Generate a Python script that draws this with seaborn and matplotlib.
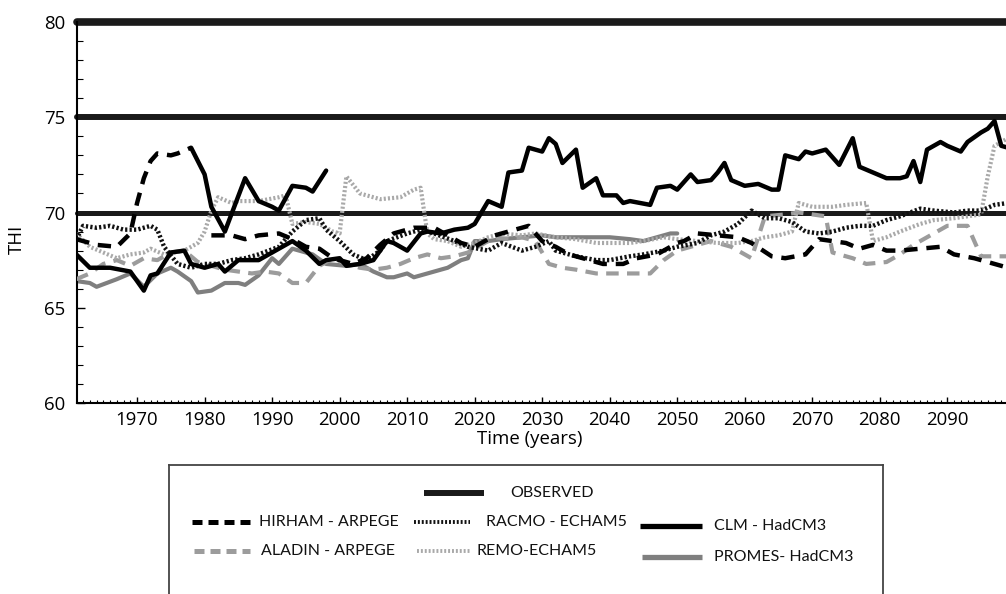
import numpy as np
import pandas as pd
import matplotlib
matplotlib.use("Agg")
import matplotlib.pyplot as plt
from matplotlib import font_manager as fm
from matplotlib.ticker import MultipleLocator
import seaborn as sns

# ---------------- data ----------------
observed_levels = [70, 75, 80]

clm_years_a = [1961, 1963, 1966, 1969, 1971, 1972, 1973, 1975, 1977, 1978,
               1980, 1982, 1983, 1985, 1988, 1990, 1993, 1995, 1997, 1998,
               2000, 2001, 2003, 2005, 2007, 2008, 2010, 2012, 2013, 2015,
               2017, 2019, 2020, 2022, 2024, 2025, 2027, 2028, 2030, 2031,
               2032, 2033, 2035, 2036, 2038, 2039, 2041, 2042, 2043, 2046,
               2047, 2049, 2050, 2052, 2053, 2055, 2056, 2057, 2058, 2060,
               2062, 2064, 2065, 2066, 2068, 2069, 2070, 2072, 2074, 2076,
               2077, 2079, 2081, 2083, 2084, 2085, 2086, 2087, 2089, 2090,
               2092, 2093, 2095, 2096, 2097, 2098, 2099]
clm_thi_a = [67.8, 67.1, 67.1, 66.9, 65.9, 66.7, 66.8, 67.9, 68.0, 67.3,
             67.1, 67.3, 66.9, 67.5, 67.5, 67.9, 68.5, 68.0, 67.3, 67.5,
             67.6, 67.2, 67.3, 67.5, 68.5, 68.4, 68.0, 68.9, 69.0, 68.9,
             69.1, 69.2, 69.4, 70.6, 70.3, 72.1, 72.2, 73.4, 73.2, 73.9,
             73.6, 72.6, 73.3, 71.3, 71.8, 70.9, 70.9, 70.5, 70.6, 70.4,
             71.3, 71.4, 71.2, 72.0, 71.6, 71.7, 72.1, 72.6, 71.7, 71.4,
             71.5, 71.2, 71.2, 73.0, 72.8, 73.2, 73.1, 73.3, 72.5, 73.9,
             72.4, 72.1, 71.8, 71.8, 71.9, 72.7, 71.6, 73.3, 73.7, 73.5,
             73.2, 73.7, 74.2, 74.4, 74.8, 73.5, 73.4]
clm_years_b = [1978, 1980, 1981, 1983, 1986, 1988, 1990, 1991, 1993, 1995, 1996, 1998]
clm_thi_b = [73.4, 72.0, 70.3, 69.0, 71.8, 70.6, 70.3, 70.1, 71.4, 71.3, 71.1, 72.2]

hirham_years_a = [1961, 1962, 1964, 1967, 1969, 1970, 1971, 1972, 1973, 1975, 1976, 1978]
hirham_thi_a = [68.6, 68.5, 68.3, 68.2, 68.9, 70.5, 71.8, 72.7, 73.1, 73.0, 73.1, 73.4]
hirham_years_b = [1981, 1984, 1986, 1988, 1991, 1993, 1995, 1997, 1999, 2000,
                  2002, 2004, 2006, 2008, 2011, 2014, 2016, 2018, 2020, 2023,
                  2025, 2028, 2030, 2032, 2034, 2037, 2039, 2042, 2044, 2047,
                  2050, 2051, 2053, 2056, 2059, 2061, 2064, 2066, 2069, 2071,
                  2073, 2075, 2077, 2079, 2081, 2083, 2086, 2089, 2091, 2094,
                  2096, 2098, 2099]
hirham_thi_b = [68.8, 68.8, 68.6, 68.8, 68.9, 68.6, 68.2, 68.1, 67.6, 67.5,
                67.3, 67.6, 68.3, 68.9, 69.2, 69.2, 68.8, 68.4, 68.2, 68.8,
                69.0, 69.3, 68.5, 68.2, 67.8, 67.5, 67.3, 67.3, 67.6, 67.8,
                68.4, 68.5, 68.9, 68.8, 68.7, 68.4, 67.7, 67.6, 67.8, 68.6,
                68.5, 68.4, 68.1, 68.3, 68.0, 68.0, 68.1, 68.2, 67.8, 67.6,
                67.4, 67.2, 67.1]

racmo_years = [1961, 1962, 1964, 1966, 1968, 1970, 1972, 1973, 1974, 1976,
               1978, 1980, 1982, 1984, 1986, 1988, 1991, 1993, 1995, 1997,
               1998, 2000, 2002, 2004, 2006, 2007, 2010, 2012, 2014, 2017,
               2019, 2022, 2024, 2027, 2029, 2031, 2032, 2035, 2038, 2040,
               2043, 2045, 2048, 2050, 2053, 2055, 2057, 2059, 2061, 2063,
               2065, 2067, 2069, 2071, 2073, 2075, 2077, 2079, 2081, 2083,
               2086, 2088, 2091, 2093, 2095, 2097, 2099]
racmo_thi = [68.6, 69.3, 69.2, 69.3, 69.1, 69.1, 69.3, 69.1, 68.2, 67.3,
             67.1, 67.3, 67.3, 67.5, 67.6, 67.8, 68.2, 69.0, 69.6, 69.7,
             69.1, 68.5, 67.8, 67.5, 68.0, 68.5, 68.9, 69.1, 68.9, 68.5,
             68.2, 68.0, 68.4, 68.0, 68.2, 68.5, 68.0, 67.7, 67.5, 67.5,
             67.7, 67.8, 68.0, 68.2, 68.4, 68.8, 69.0, 69.4, 70.1, 69.7,
             69.7, 69.5, 69.0, 68.9, 69.0, 69.2, 69.3, 69.3, 69.6, 69.8,
             70.2, 70.1, 70.0, 70.1, 70.1, 70.4, 70.5]

remo_years = [1961, 1963, 1965, 1967, 1969, 1971, 1972, 1974, 1977, 1979,
              1980, 1981, 1982, 1984, 1985, 1988, 1991, 1992, 1993, 1995,
              1997, 1999, 2000, 2001, 2003, 2006, 2009, 2011, 2012, 2013,
              2014, 2016, 2018, 2020, 2022, 2024, 2027, 2029, 2032, 2035,
              2038, 2040, 2043, 2045, 2048, 2050, 2053, 2056, 2059, 2061,
              2063, 2065, 2067, 2068, 2070, 2073, 2075, 2078, 2079, 2081,
              2083, 2086, 2088, 2091, 2093, 2095, 2096, 2097, 2099]
remo_thi = [68.9, 68.2, 67.9, 67.6, 67.8, 67.9, 68.1, 67.8, 68.0, 68.4,
            69.0, 70.1, 70.8, 70.5, 70.6, 70.6, 70.8, 70.9, 69.4, 69.5,
            69.4, 69.0, 68.9, 71.9, 71.0, 70.7, 70.8, 71.2, 71.3, 68.9,
            68.6, 68.5, 68.2, 68.4, 68.7, 68.9, 68.8, 68.9, 68.7, 68.6,
            68.4, 68.4, 68.4, 68.5, 68.7, 68.6, 68.5, 68.4, 68.4, 68.5,
            68.7, 68.8, 69.0, 70.5, 70.3, 70.3, 70.4, 70.5, 68.5, 68.7,
            69.0, 69.4, 69.6, 69.7, 69.8, 69.9, 71.9, 73.5, 73.9]

aladin_years = [1961, 1963, 1965, 1967, 1969, 1971, 1973, 1975, 1977, 1979,
                1981, 1983, 1985, 1987, 1989, 1991, 1993, 1995, 1997, 1999,
                2001, 2003, 2005, 2007, 2009, 2011, 2013, 2015, 2017, 2019,
                2021, 2023, 2025, 2027, 2029, 2031, 2033, 2035, 2038, 2041,
                2044, 2046, 2048, 2050, 2053, 2055, 2058, 2061, 2063, 2066,
                2068, 2070, 2072, 2073, 2076, 2078, 2081, 2083, 2085, 2088,
                2090, 2093, 2094, 2095, 2097, 2099]
aladin_thi = [66.5, 66.8, 67.3, 67.5, 67.2, 67.6, 67.5, 67.9, 68.0, 67.4,
              67.2, 67.0, 66.9, 66.8, 66.9, 66.8, 66.3, 66.3, 67.2, 67.6,
              67.3, 67.1, 67.0, 67.1, 67.3, 67.6, 67.8, 67.6, 67.7, 67.9,
              68.3, 68.7, 68.6, 68.7, 68.5, 67.3, 67.1, 67.0, 66.8, 66.8,
              66.8, 66.8, 67.5, 68.0, 68.3, 68.5, 68.2, 67.6, 69.8, 69.9,
              70.0, 69.9, 69.8, 67.9, 67.6, 67.3, 67.4, 67.8, 68.3, 68.9,
              69.3, 69.3, 68.5, 67.7, 67.7, 67.7]

promes_years = [1961, 1963, 1964, 1967, 1969, 1971, 1973, 1975, 1976, 1978,
                1979, 1981, 1982, 1983, 1985, 1986, 1988, 1990, 1991, 1993,
                1996, 1998, 2001, 2003, 2005, 2007, 2008, 2010, 2011, 2014,
                2016, 2018, 2019, 2020, 2022, 2024, 2027, 2030, 2032, 2035,
                2038, 2040, 2043, 2045, 2047, 2049, 2050]
promes_thi = [66.4, 66.3, 66.1, 66.5, 66.8, 66.1, 66.8, 67.1, 66.9, 66.4,
              65.8, 65.9, 66.1, 66.3, 66.3, 66.2, 66.7, 67.6, 67.3, 68.1,
              67.8, 67.3, 67.2, 67.3, 66.9, 66.6, 66.6, 66.8, 66.6, 66.9,
              67.1, 67.5, 67.6, 68.5, 68.5, 68.6, 68.7, 68.8, 68.7, 68.7,
              68.7, 68.7, 68.6, 68.5, 68.7, 68.9, 68.9]

x_tick_years = [1970, 1980, 1990, 2000, 2010, 2020, 2030, 2040, 2050, 2060, 2070, 2080, 2090]
y_tick_values = [60, 65, 70, 75, 80]

observed_label = "OBSERVED"
model_labels = ["HIRHAM - ARPEGE", "ALADIN - ARPEGE", "RACMO - ECHAM5",
                "REMO-ECHAM5", "CLM - HadCM3", "PROMES- HadCM3"]

# ---------------- long-form table ----------------
segments = [
    ("PROMES- HadCM3", "p", promes_years, promes_thi),
    ("ALADIN - ARPEGE", "a", aladin_years, aladin_thi),
    ("REMO-ECHAM5", "r", remo_years, remo_thi),
    ("RACMO - ECHAM5", "c", racmo_years, racmo_thi),
    ("HIRHAM - ARPEGE", "h1", hirham_years_a, hirham_thi_a),
    ("HIRHAM - ARPEGE", "h2", hirham_years_b, hirham_thi_b),
    ("CLM - HadCM3", "k1", clm_years_a, clm_thi_a),
    ("CLM - HadCM3", "k2", clm_years_b, clm_thi_b),
]
rows = []
for model, seg, yrs, vals in segments:
    for yr, v in zip(yrs, vals):
        rows.append((model, seg, yr, v))
df = pd.DataFrame(rows, columns=["model", "segment", "year", "thi"])

# ---------------- style ----------------
sns.set_theme(style="ticks")
avail = {f.name for f in fm.fontManager.ttflist}
main_font = "Open Sans" if "Open Sans" in avail else "DejaVu Sans"
if "Liberation Sans Narrow" in avail:
    legend_font, legend_size = "Liberation Sans Narrow", 13.0
else:
    legend_font, legend_size = "Lato", 11.5
plt.rcParams["font.family"] = [main_font, "DejaVu Sans"]

styles = {
    "PROMES- HadCM3": dict(color="#7f7f7f", lw=3.0, ls="-"),
    "ALADIN - ARPEGE": dict(color="#9c9c9c", lw=3.0, ls=(0, (3, 2))),
    "REMO-ECHAM5": dict(color="#a9a9a9", lw=3.0, ls=(0, (0.5, 0.5))),
    "RACMO - ECHAM5": dict(color="#111111", lw=3.2, ls=(0, (0.5, 0.5))),
    "HIRHAM - ARPEGE": dict(color="#000000", lw=3.2, ls=(0, (3, 2))),
    "CLM - HadCM3": dict(color="#000000", lw=3.2, ls="-"),
}
draw_order = ["PROMES- HadCM3", "ALADIN - ARPEGE", "REMO-ECHAM5",
              "RACMO - ECHAM5", "HIRHAM - ARPEGE", "CLM - HadCM3"]

W, H = 1006, 594
fig = plt.figure(figsize=(W / 100, H / 100), dpi=100)
ax = fig.add_axes([77 / W, 191 / H, 929 / W, 381 / H])

obs_widths = [3.6, 4.3, 5.5]
for lvl, lw in zip(observed_levels, obs_widths):
    ax.axhline(lvl, color="#1a1a1a", lw=lw, zorder=1.5, clip_on=False)

for i, m in enumerate(draw_order):
    st = styles[m]
    sns.lineplot(data=df[df["model"] == m], x="year", y="thi", units="segment",
                 estimator=None, color=st["color"], linewidth=st["lw"],
                 linestyle=st["ls"], legend=False, ax=ax, zorder=2 + i)

ax.set_xlim(1961.1, 2098.7)
ax.set_ylim(60, 80)
ax.set_xticks(x_tick_years)
ax.set_yticks(y_tick_values)
ax.xaxis.set_minor_locator(MultipleLocator(1))
ax.yaxis.set_minor_locator(MultipleLocator(1))
ax.tick_params(axis="both", which="both", direction="in", color="black",
               labelsize=13.4, labelcolor="black")
ax.tick_params(axis="x", which="major", length=4, width=1.0, pad=6)
ax.tick_params(axis="x", which="minor", length=2, width=0.8)
ax.tick_params(axis="y", which="major", length=6, width=1.0, pad=8.5)
ax.tick_params(axis="y", which="minor", length=4, width=0.8)
for side in ["right", "top"]:
    ax.spines[side].set_visible(False)
for side in ["left", "bottom"]:
    ax.spines[side].set_color("black")
    ax.spines[side].set_linewidth(1.5)

ax.set_xlabel("Time (years)", fontsize=13.4, color="black")
ax.set_ylabel("THI", fontsize=13.4, color="black")
ax.xaxis.set_label_coords((530 - 77) / 929, (403 - 430) / 381)
ax.yaxis.set_label_coords((26 - 77) / 929, (403 - 239) / 381)

# ---------------- legend box ----------------
leg = fig.add_axes([169 / W, (H - 600) / H, (883 - 169) / W, (600 - 465) / H])
leg.set_xlim(169, 883)
leg.set_ylim(600, 465)
leg.set_xticks([])
leg.set_yticks([])
leg.set_facecolor("white")
for sp in leg.spines.values():
    sp.set_color("#444444")
    sp.set_linewidth(1.3)

legend_items = [
    (observed_label, "#1a1a1a", 4.3, "-", 424, 484, 493, 510),
    (model_labels[0], "#000000", 3.6, (0, (2.0, 1.2)), 192, 250, 522, 259),
    (model_labels[2], "#111111", 2.8, (0, (0.5, 0.5)), 414, 470, 522, 486),
    (model_labels[4], "#000000", 3.8, "-", 640, 702, 526, 714),
    (model_labels[1], "#9c9c9c", 3.6, (0, (2.0, 1.2)), 194, 250, 551, 261),
    (model_labels[3], "#a9a9a9", 2.8, (0, (0.5, 0.5)), 417, 470, 551, 476),
    (model_labels[5], "#7f7f7f", 3.8, "-", 642, 702, 557, 714),
]
for label, col, lw, ls, x0, x1, yy, tx in legend_items:
    leg.plot([x0, x1], [yy, yy], color=col, lw=lw, linestyle=ls,
             solid_capstyle="butt", dash_capstyle="butt")
    leg.text(tx, yy, label, va="center", ha="left", fontsize=legend_size,
             family=[legend_font, "DejaVu Sans"], color="#111111")

fig.savefig("out.png", dpi=100)
